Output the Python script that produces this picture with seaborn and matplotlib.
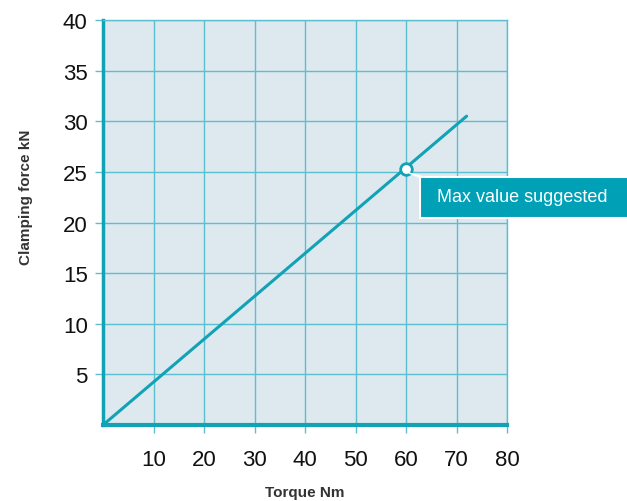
import numpy as np
import pandas as pd
import seaborn as sns
import matplotlib.pyplot as plt
from matplotlib.patches import Rectangle, Polygon

# Dados
torque = [0, 72]
forca = [0, 30.5]
max_torque = [60]
max_forca = [25.3]
x_ticks = [10, 20, 30, 40, 50, 60, 70, 80]
y_ticks = [5, 10, 15, 20, 25, 30, 35, 40]
nota = "Max value suggested"

teal = "#12a2b6"
grid_cor = "#5cbfcf"
fundo = "#dde9ef"

sns.set_style("white")
plt.rcParams['font.family'] = ['Liberation Sans', 'DejaVu Sans']

fig = plt.figure(figsize=(6.27, 5.02), dpi=100)
ax = fig.add_axes([103 / 627, 1 - 426 / 502, 404 / 627, 405 / 502])
ax.set_facecolor(fundo)

dados = pd.DataFrame({'Torque': torque, 'Forca': forca})
sns.lineplot(data=dados, x='Torque', y='Forca', ax=ax, color=teal, linewidth=2.2)
sns.scatterplot(x=max_torque, y=max_forca, ax=ax, s=70, color='white',
                edgecolor=teal, linewidth=2, zorder=5)

ax.set_xlim(0, 80)
ax.set_ylim(0, 40)
ax.set_xticks(x_ticks)
ax.set_yticks(y_ticks)
ax.grid(True, color=grid_cor, linewidth=1)
ax.set_axisbelow(True)
ax.tick_params(axis='both', bottom=True, left=True, length=6, color=grid_cor, width=1,
               labelsize=16, labelcolor='#111111')
ax.tick_params(axis='x', pad=11)
ax.tick_params(axis='y', pad=5)

for lado in ['top', 'right']:
    ax.spines[lado].set_color(grid_cor)
    ax.spines[lado].set_linewidth(1)
ax.spines['left'].set_color(teal)
ax.spines['left'].set_linewidth(2.5)
ax.spines['bottom'].set_color(teal)
ax.spines['bottom'].set_linewidth(3)

ax.set_xlabel('Torque Nm', fontsize=11, fontweight='bold', color='#333333', labelpad=11)
ax.set_ylabel('Clamping force kN', fontsize=11, fontweight='bold', color='#333333')
ax.yaxis.set_label_coords(-0.173, 0.565)

# Caixa da nota
caixa = Rectangle((420 / 627, 1 - 219 / 502), 0.4, 41 / 502, transform=fig.transFigure,
                  facecolor='#00a0b6', edgecolor='white', linewidth=1.5,
                  clip_on=False, zorder=10)
fig.patches.append(caixa)
ponta = Polygon([(409 / 627, 1 - 174 / 502), (421 / 627, 1 - 179 / 502), (428 / 627, 1 - 179 / 502)],
                closed=True, transform=fig.transFigure, facecolor='#00a0b6',
                edgecolor='white', linewidth=1, zorder=9)
fig.patches.append(ponta)
fig.text(437 / 627, 1 - 198 / 502, nota, color='white', fontsize=13,
         va='center', ha='left', zorder=11)

plt.savefig('out.png', dpi=100)
